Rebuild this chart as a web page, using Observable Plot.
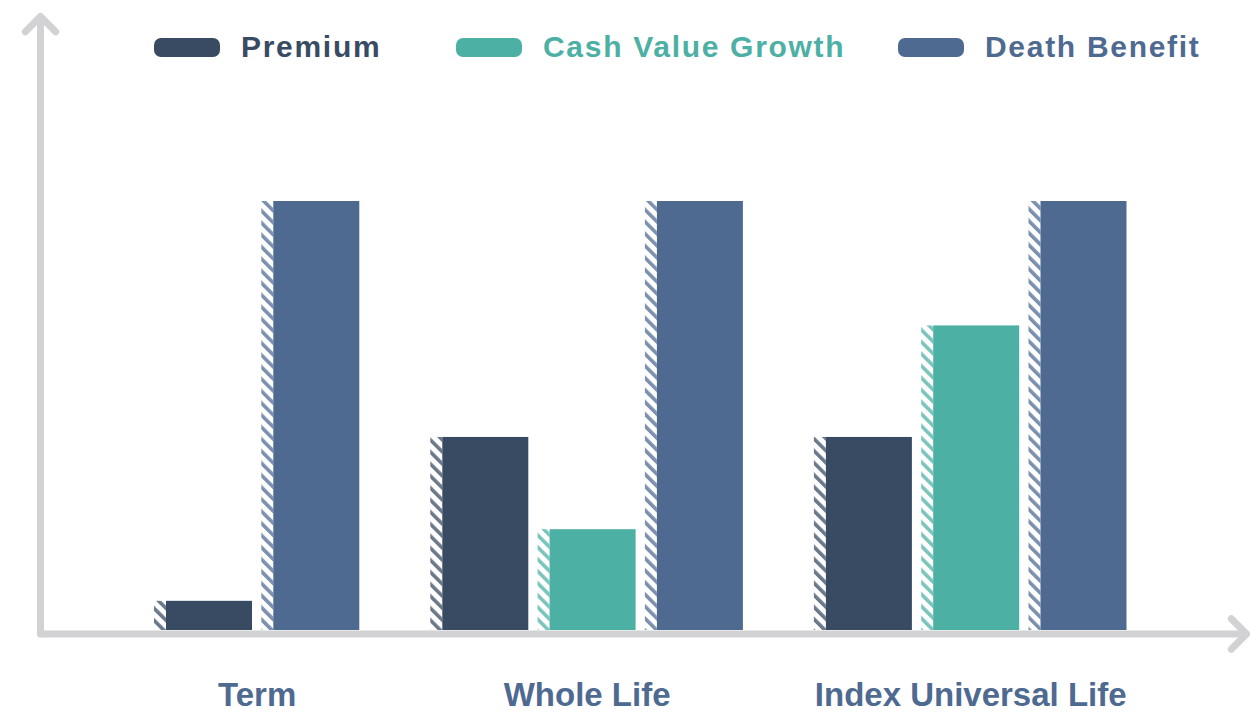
<!DOCTYPE html>
<html>
<head>
<meta charset="utf-8">
<script src="https://cdn.jsdelivr.net/npm/d3@7"></script>
<script src="https://cdn.jsdelivr.net/npm/@observablehq/plot@0.6"></script>
<style>
  body { margin: 0; background: #fff; }
  #wrap { position: relative; width: 1250px; height: 715px; overflow: hidden; }
  #legend { position: absolute; left: 0; top: 0; width: 1250px; height: 90px; }
  .item { position: absolute; top: 28px; height: 38px; display: flex; align-items: center; }
  .sw { width: 66px; height: 19px; border-radius: 7px; }
  .lab { font-family: "Liberation Sans", Arial, sans-serif; font-weight: bold; font-size: 30px; letter-spacing: 1.7px; margin-left: 21px; white-space: nowrap; }
  #chart { position: absolute; left: 0; top: 0; }
</style>
</head>
<body>
<div id="wrap">
  <div id="chart"></div>
  <div id="legend"></div>
</div>
<script>
// ---- data ----
const categories = ["Term", "Whole Life", "Index Universal Life"];
const series = ["Premium", "Cash Value Growth", "Death Benefit"];
const premium = [6.8, 45, 45];
const cashValueGrowth = [null, 23.5, 71];
const deathBenefit = [100, 100, 100];

// ---- styles ----
const colors = ["#394B63", "#4CB0A4", "#4E6A91"];
const axisColor = "#D2D2D4";
const labelColor = "#4E6A91";

// ---- layout (pixels) ----
const W = 1250, H = 715;
const firstBarPx = 154, slotPx = 107.3, groupGapPx = 169;
const hatchPx = 12, solidPx = 86;
const axisXPx = 40, axisEndPx = 1246;
const baselinePx = 630, pxPerUnit = 4.29;

// build table from the arrays
const valuesBySeries = [premium, cashValueGrowth, deathBenefit];
const bars = [];
const groupCenters = [];
let slot = 0;
categories.forEach((cat, g) => {
  if (g > 0) slot += groupGapPx / slotPx;
  const start = slot;
  let last = slot;
  series.forEach((s, si) => {
    const v = valuesBySeries[si][g];
    if (v == null) return;
    bars.push({category: cat, series: s, si, value: v, slot});
    last = slot;
    slot += 1;
  });
  groupCenters.push((start + last + (hatchPx + solidPx) / slotPx) / 2);
  slot -= 1;
});

const xDomain = [(axisXPx - firstBarPx) / slotPx, (axisEndPx - firstBarPx) / slotPx];
const yMax = baselinePx / pxPerUnit;
const axisY = (baselinePx - 633.5) / pxPerUnit;
const arrowTopY = (baselinePx - 16) / pxPerUnit;
const hW = hatchPx / slotPx, sW = solidPx / slotPx;

const axes = [
  {x1: xDomain[0], y1: axisY, x2: xDomain[0], y2: arrowTopY},
  {x1: xDomain[0], y1: axisY, x2: xDomain[1], y2: axisY}
];

const marks = [];
series.forEach((s, si) => {
  const data = bars.filter(d => d.si === si);
  marks.push(Plot.rectY(data, {x1: d => d.slot, x2: d => d.slot + hW, y1: 0, y2: "value", fill: `url(#hatch${si})`}));
  marks.push(Plot.rectY(data, {x1: d => d.slot + hW, x2: d => d.slot + hW + sW, y1: 0, y2: "value", fill: colors[si]}));
});
marks.push(Plot.arrow(axes, {x1: "x1", y1: "y1", x2: "x2", y2: "y2", stroke: axisColor, strokeWidth: 7, headAngle: 90, headLength: 4.6, strokeLinecap: "round", strokeLinejoin: "round"}));
marks.push(Plot.text(categories, {x: (d, i) => groupCenters[i], frameAnchor: "bottom", dy: 75, text: d => d, fill: labelColor, fontSize: 33, fontWeight: "bold", textAnchor: "middle"}));

const svg = Plot.plot({
  width: W, height: H,
  marginLeft: axisXPx, marginRight: W - axisEndPx, marginTop: 0, marginBottom: H - baselinePx,
  style: {fontFamily: "'Liberation Sans', Arial, sans-serif", background: "transparent", overflow: "visible"},
  x: {domain: xDomain, axis: null},
  y: {domain: [0, yMax], axis: null},
  marks
});

const defs = d3.select(svg).insert("defs", ":first-child");
colors.forEach((c, i) => {
  const p = defs.append("pattern").attr("id", "hatch" + i)
    .attr("patternUnits", "userSpaceOnUse").attr("width", 8.5).attr("height", 8.5)
    .attr("patternTransform", "rotate(-45)");
  p.append("rect").attr("width", 8.5).attr("height", 8.5).attr("fill", "#fff");
  p.append("rect").attr("width", 3.6).attr("height", 8.5).attr("fill", c).attr("fill-opacity", 0.75);
});
document.getElementById("chart").appendChild(svg);

// legend
const legendLeft = [154, 456, 898];
const legend = document.getElementById("legend");
series.forEach((s, i) => {
  const item = document.createElement("div");
  item.className = "item";
  item.style.left = legendLeft[i] + "px";
  item.innerHTML = `<div class="sw" style="background:${colors[i]}"></div><div class="lab" style="color:${colors[i]}">${s}</div>`;
  legend.appendChild(item);
});
</script>
</body>
</html>
